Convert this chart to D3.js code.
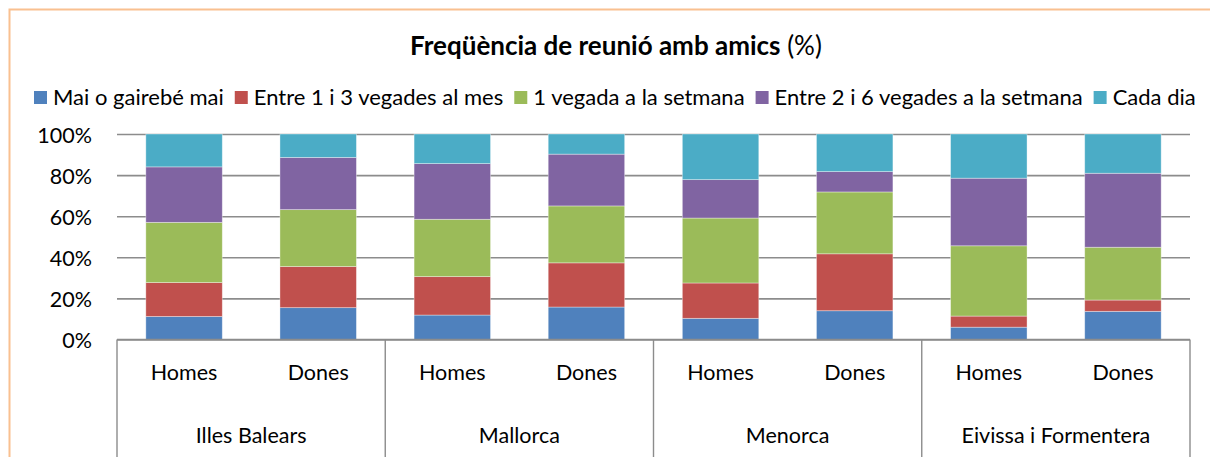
<!DOCTYPE html>
<html>
<head>
<meta charset="utf-8">
<script src="https://cdn.jsdelivr.net/npm/d3@7"></script>
<style>
  body { margin: 0; background: #fff; }
  svg { display: block; font-family: Lato, "Open Sans", sans-serif; }
</style>
</head>
<body>
<svg id="chart" width="1210" height="457"></svg>
<script>
// categories
const groups = ['Illes Balears', 'Mallorca', 'Menorca', 'Eivissa i Formentera'];
const sexes = ['Homes', 'Dones'];
const seriesNames = ['Mai o gairebé mai', 'Entre 1 i 3 vegades al mes', '1 vegada a la setmana',
    'Entre 2 i 6 vegades a la setmana', 'Cada dia'];
const yTicks = [0, 20, 40, 60, 80, 100];

// % per bar, order: IB H, IB D, Mallorca H, Mallorca D, Menorca H, Menorca D, Eivissa H, Eivissa D
const maiGairebeMai = [11.2, 15.5, 11.9, 15.8, 10.3, 14.0, 6.0, 13.7];
const entre1i3Mes = [16.5, 20.0, 18.7, 21.5, 17.2, 27.7, 5.4, 5.5];
const unaVegadaSetmana = [29.3, 27.7, 27.9, 27.7, 31.6, 30.1, 34.2, 25.7];
const entre2i6Setmana = [27.0, 25.4, 27.1, 25.2, 18.7, 9.9, 32.9, 36.0];
const cadaDia = [16.0, 11.4, 14.4, 9.8, 22.2, 18.3, 21.5, 19.1];

const colors = ['#4f81bd', '#c0504d', '#9bbb59', '#8064a2', '#4bacc6'];

let svg = d3.select('#chart');
let margin = {top: 134, left: 117, right: 1190, bottom: 339.5};
let labelSize = 21.5;

// build rows for d3.stack
let allSeries = [maiGairebeMai, entre1i3Mes, unaVegadaSetmana, entre2i6Setmana, cadaDia];
let rows = [];
groups.forEach((g, gi) => {
    sexes.forEach((s, si) => {
        let i = gi * 2 + si;
        let row = {id: i, group: g, sex: s};
        seriesNames.forEach((name, k) => { row[name] = allSeries[k][i]; });
        rows.push(row);
    });
});

let xScale = d3.scaleBand()
    .domain(rows.map(d => d.id))
    .range([margin.left, margin.right])
    .paddingInner(0.43)
    .paddingOuter(0.215);

let xGroup = d3.scaleBand()
    .domain(groups)
    .range([margin.left, margin.right]);

let yScale = d3.scaleLinear()
    .domain([0, 100])
    .range([margin.bottom, margin.top]);

// chart border (only top and left show inside the picture)
svg.append('rect')
    .attr('x', 9.5).attr('y', 9.5)
    .attr('width', 1300).attr('height', 600)
    .attr('fill', 'none')
    .attr('stroke', '#f9c090')
    .attr('stroke-width', 2);

// title
let title = svg.append('text')
    .attr('x', 616).attr('y', 55)
    .attr('text-anchor', 'middle')
    .attr('font-size', 26)
    .attr('fill', '#000');
title.append('tspan').attr('font-weight', 'bold').text('Freqüència de reunió amb amics');
title.append('tspan').text(' (%)');

// gridlines + y labels
let yAxis = d3.axisLeft(yScale)
    .tickValues(yTicks)
    .tickFormat(d => d + '%')
    .tickSize(-(margin.right - margin.left))
    .tickPadding(25);

let yG = svg.append('g')
    .attr('transform', `translate(${margin.left}, 0)`)
    .call(yAxis);
yG.select('.domain').remove();
yG.selectAll('.tick line').attr('stroke', '#8c8c8c').attr('stroke-width', 1.6);
yG.selectAll('.tick text')
    .attr('font-size', labelSize)
    .attr('font-family', 'Lato, sans-serif')
    .attr('fill', '#000')
    .attr('dy', '0.38em');

// stacked bars
let stacked = d3.stack().keys(seriesNames)(rows);
svg.append('g').selectAll('g')
    .data(stacked)
    .join('g')
    .attr('fill', (d, i) => colors[i])
    .selectAll('rect')
    .data(d => d)
    .join('rect')
    .attr('x', d => xScale(d.data.id))
    .attr('width', xScale.bandwidth())
    .attr('y', d => yScale(d[1]))
    .attr('height', d => yScale(d[0]) - yScale(d[1]))
    .attr('stroke', 'rgba(255,255,255,0.45)')
    .attr('stroke-width', 0.8);

// x axis: sex labels
let xAxis = d3.axisBottom(xScale)
    .tickFormat(i => rows[i].sex)
    .tickSize(0)
    .tickPadding(25);
let xG = svg.append('g')
    .attr('transform', `translate(0, ${margin.bottom})`)
    .call(xAxis);
xG.select('.domain').remove();
xG.selectAll('.tick text')
    .attr('font-size', labelSize)
    .attr('font-family', 'Lato, sans-serif')
    .attr('fill', '#000');

// baseline
svg.append('line')
    .attr('x1', margin.left).attr('x2', margin.right)
    .attr('y1', margin.bottom).attr('y2', margin.bottom)
    .attr('stroke', '#8c8c8c').attr('stroke-width', 1.6);

// group separators
let edges = groups.map(g => xGroup(g)).concat([margin.right]);
svg.append('g').selectAll('line')
    .data(edges)
    .join('line')
    .attr('x1', d => d).attr('x2', d => d)
    .attr('y1', margin.bottom).attr('y2', 457)
    .attr('stroke', '#8c8c8c').attr('stroke-width', 1.4);

// group labels
svg.append('g').selectAll('text')
    .data(groups)
    .join('text')
    .attr('x', g => xGroup(g) + xGroup.bandwidth() / 2)
    .attr('y', 443)
    .attr('text-anchor', 'middle')
    .attr('font-size', labelSize)
    .text(g => g);

// legend, laid out left to right
let legend = svg.append('g').attr('transform', 'translate(0, 97)');
let lx = 34;
seriesNames.forEach((name, i) => {
    legend.append('rect')
        .attr('x', lx).attr('y', -6)
        .attr('width', 13).attr('height', 13)
        .attr('fill', colors[i]);
    let t = legend.append('text')
        .attr('x', lx + 19).attr('y', 7.5)
        .attr('font-size', 22)
        .text(name);
    lx += 19 + t.node().getComputedTextLength() + 11;
});
</script>
</body>
</html>
